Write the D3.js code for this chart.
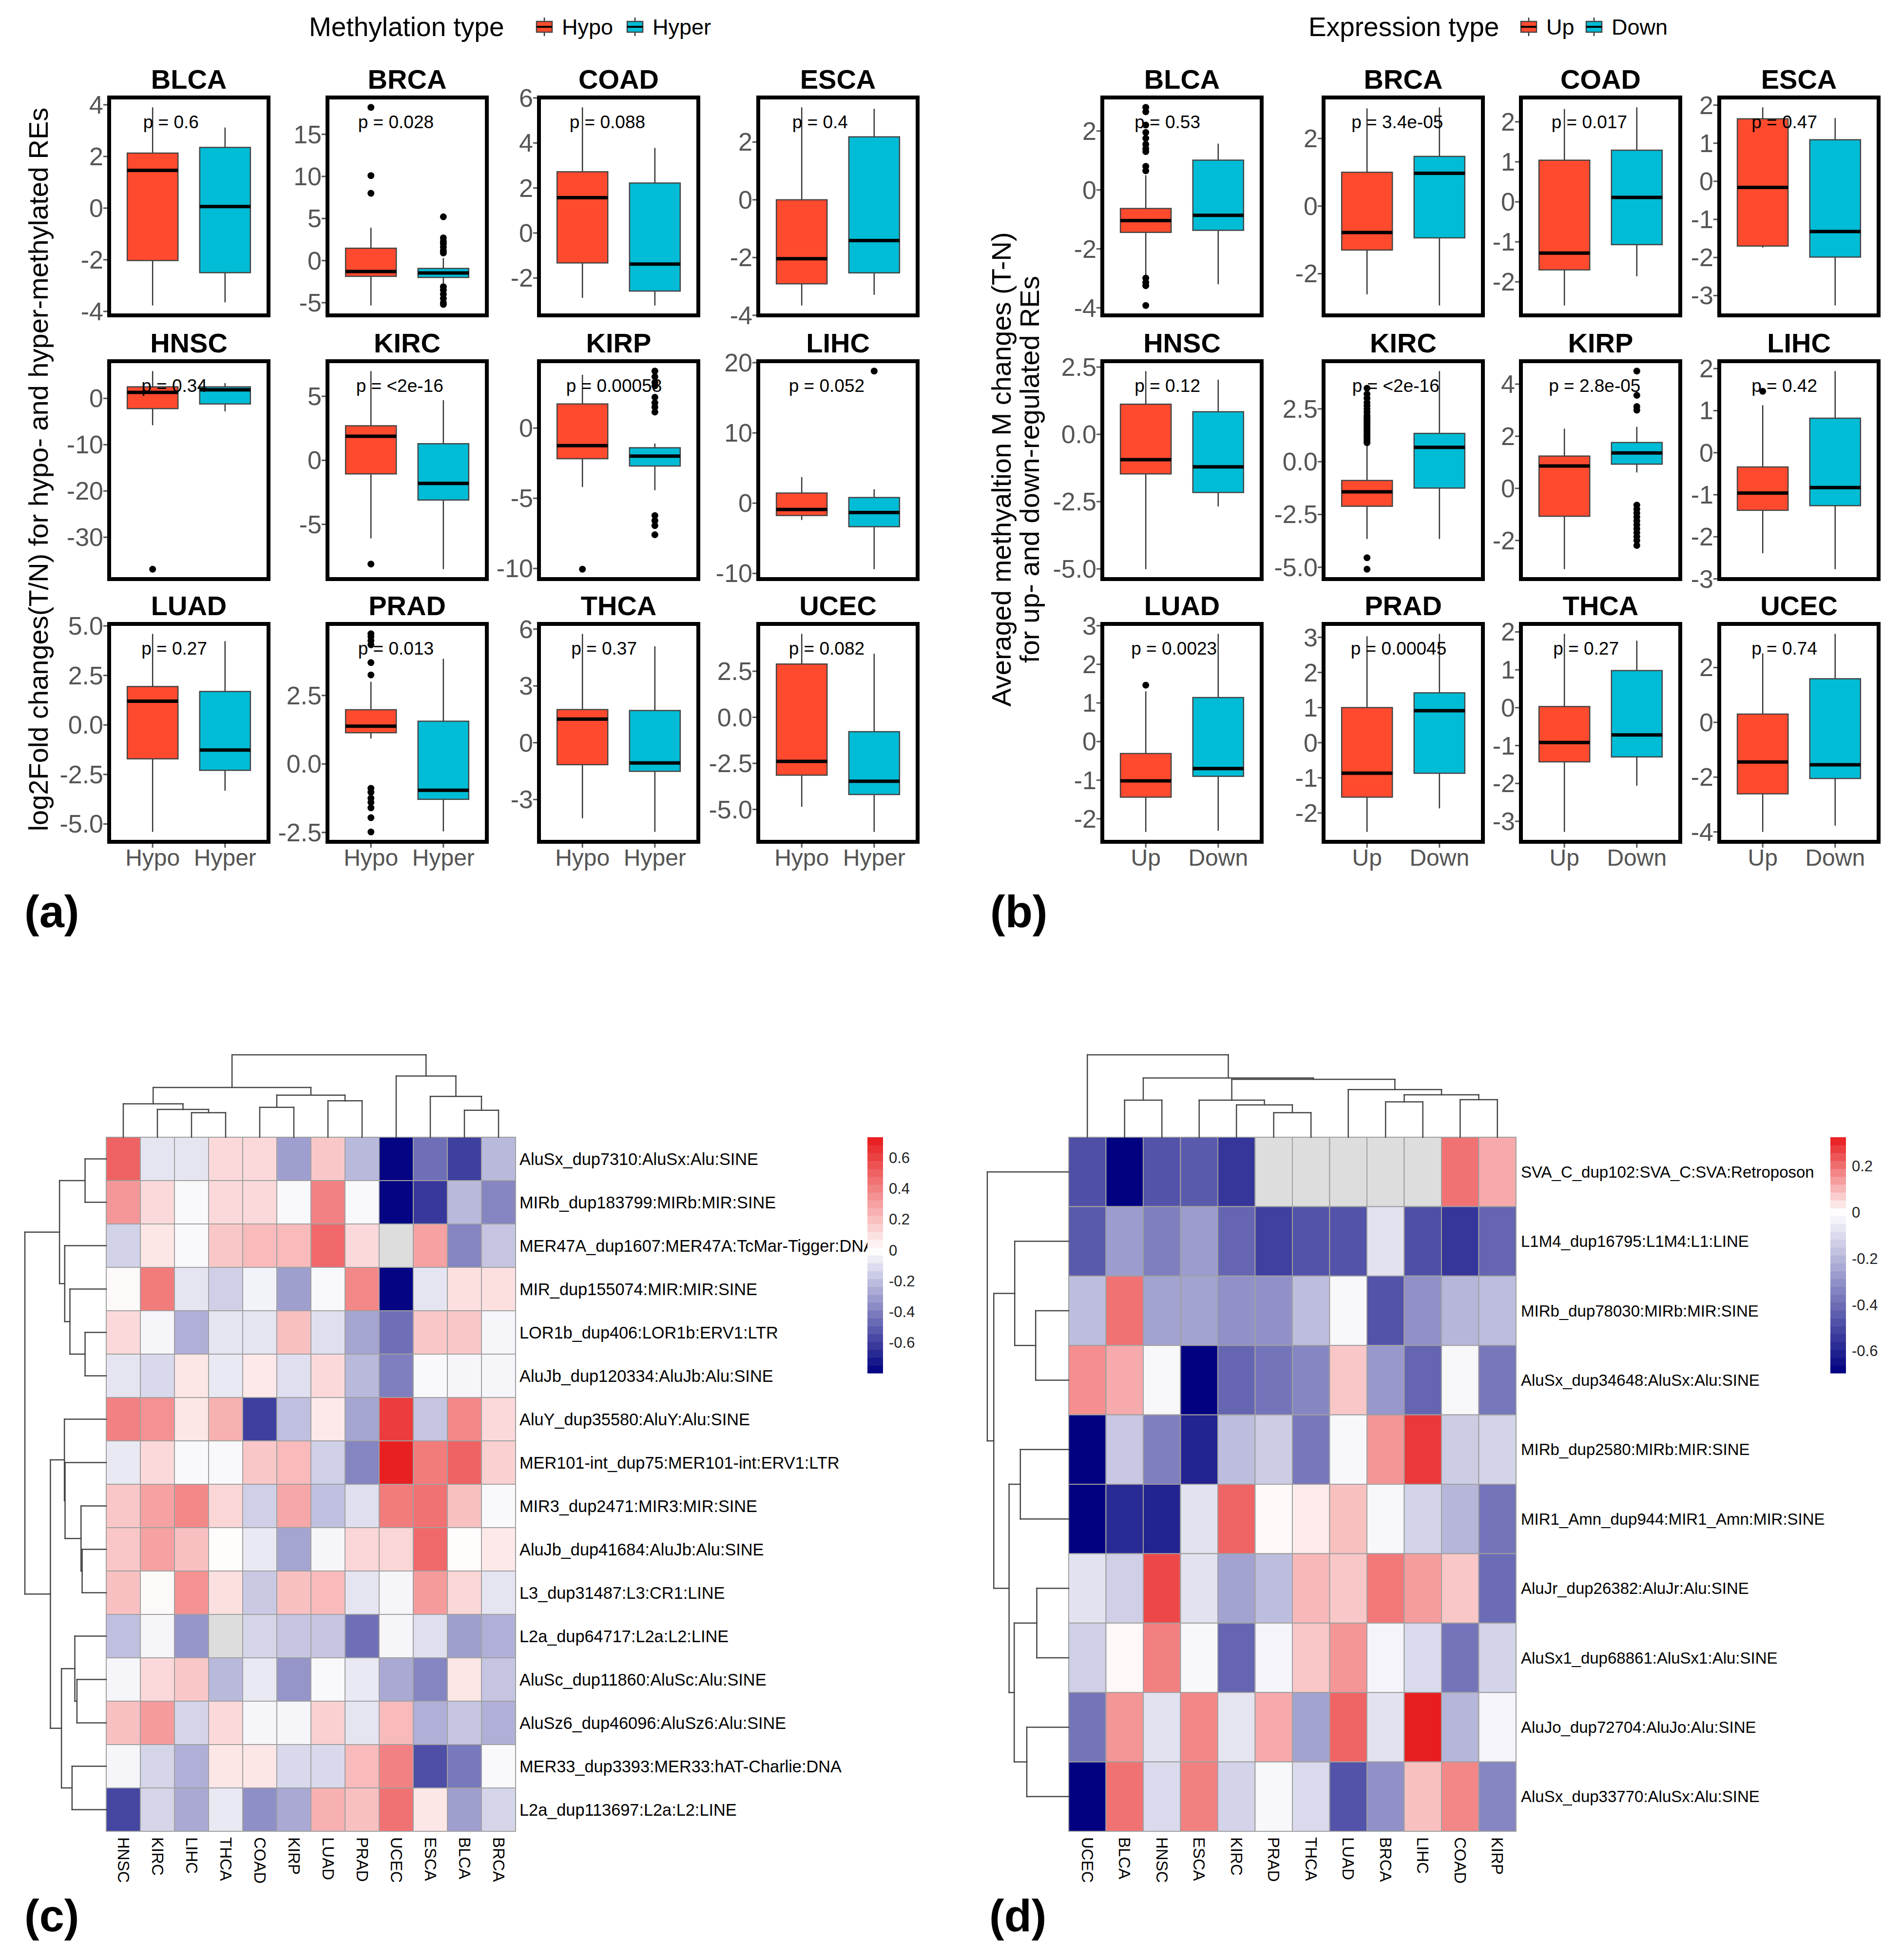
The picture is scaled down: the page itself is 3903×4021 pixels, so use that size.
<!DOCTYPE html>
<html>
<head>
<meta charset="utf-8">
<script src="https://cdn.jsdelivr.net/npm/d3@7"></script>
<style>
  body { margin: 0; background: #fff; }
  text { font-family: "Liberation Sans", Arial, sans-serif; }
</style>
</head>
<body>
<svg id="fig" width="3903" height="4021"></svg>
<script>
// ---------- data: boxplots ----------
const cancers = ["BLCA", "BRCA", "COAD", "ESCA", "HNSC", "KIRC", "KIRP", "LIHC", "LUAD", "PRAD", "THCA", "UCEC"];

// [lower whisker, q1, median, q3, upper whisker]
const hypoBoxA = [
  [-3.77, -2.03, 1.46, 2.13, 3.9],
  [-5.33, -1.87, -1.29, 1.47, 3.9],
  [-2.88, -1.33, 1.57, 2.72, 5.58],
  [-3.66, -2.91, -2.04, 0.0, 3.2],
  [-5.8, -2.2, 1.3, 2.5, 5.9],
  [-6.1, -1.06, 1.88, 2.7, 6.97],
  [-4.2, -2.18, -1.25, 1.72, 3.8],
  [-2.4, -1.76, -0.9, 1.44, 3.72],
  [-5.4, -1.71, 1.2, 1.94, 4.6],
  [0.93, 1.14, 1.38, 1.98, 3.0],
  [-3.99, -1.16, 1.25, 1.75, 5.75],
  [-4.86, -3.14, -2.39, 2.89, 4.53]
];
const hyperBoxA = [
  [-3.65, -2.5, 0.06, 2.35, 3.12],
  [-2.7, -2.0, -1.47, -0.93, 0.3],
  [-3.22, -2.58, -1.38, 2.22, 3.78],
  [-3.29, -2.53, -1.41, 2.18, 3.15],
  [-2.8, -1.2, 1.85, 2.5, 3.3],
  [-8.5, -3.1, -1.8, 1.3, 4.7],
  [-4.43, -2.7, -2.0, -1.4, -1.1],
  [-9.4, -3.35, -1.33, 0.8, 1.97],
  [-3.32, -2.29, -1.27, 1.69, 4.23],
  [-2.46, -1.29, -0.96, 1.56, 3.84],
  [-4.71, -1.51, -1.07, 1.7, 5.09],
  [-6.22, -4.19, -3.47, -0.78, 3.45]
];
const hypoOutA = [
  [], [18.2, 10.1, 8.0], [], [], [-36.9], [-8.1], [-10.05], [], [],
  [3.25, 3.7, 4.35, 4.5, 4.65, 4.75, -0.89, -1.03, -1.25, -1.4, -1.6, -1.96, -2.48], [], []
];
const hyperOutA = [
  [], [5.2, 2.7, 2.3, 2.0, 1.6, 1.2, 0.9, -3.1, -3.5, -4.0, -4.5, -5.0, -5.2], [], [], [], [],
  [4.06, 3.66, 3.26, 3.0, 2.2, 1.8, 1.5, 1.14, -6.23, -6.6, -6.95, -7.6], [18.8], [], [], [], []
];
const ticksA = [[-4, -2, 0, 2, 4], [-5, 0, 5, 10, 15], [-2, 0, 2, 4, 6], [-4, -2, 0, 2], [-30, -20, -10, 0], [-5, 0, 5],
  [-10, -5, 0], [-10, 0, 10, 20], [-5, -2.5, 0, 2.5, 5], [-2.5, 0, 2.5], [-3, 0, 3, 6], [-5, -2.5, 0, 2.5]];
const pvalA = ["p = 0.6", "p = 0.028", "p = 0.088", "p = 0.4", "p = 0.34", "p = <2e-16", "p = 0.00058", "p = 0.052",
  "p = 0.27", "p = 0.013", "p = 0.37", "p = 0.082"];

const upBoxB = [
  [-2.89, -1.44, -1.04, -0.63, 0.5],
  [-2.61, -1.3, -0.78, 1.0, 2.89],
  [-2.59, -1.7, -1.28, 1.04, 2.32],
  [-1.74, -1.7, -0.16, 1.64, 1.94],
  [-5.01, -1.47, -0.94, 1.12, 2.35],
  [-3.66, -2.11, -1.43, -0.89, 0.75],
  [-3.1, -1.07, 0.86, 1.24, 2.29],
  [-2.39, -1.37, -0.96, -0.34, 1.13],
  [-2.34, -1.44, -1.02, -0.31, 1.3],
  [-2.54, -1.55, -0.87, 1.0, 3.03],
  [-3.28, -1.43, -0.92, 0.03, 1.95],
  [-4.0, -2.61, -1.45, 0.3, 2.52]
];
const downBoxB = [
  [-3.2, -1.37, -0.86, 1.01, 1.57],
  [-2.94, -0.94, 0.97, 1.47, 2.92],
  [-1.86, -1.07, 0.11, 1.29, 2.36],
  [-3.26, -1.99, -1.32, 1.09, 1.66],
  [-2.68, -2.16, -1.21, 0.84, 2.03],
  [-3.66, -1.25, 0.68, 1.34, 4.29],
  [0.61, 0.93, 1.36, 1.76, 2.36],
  [-2.77, -1.26, -0.83, 0.82, 1.94],
  [-2.31, -0.9, -0.7, 1.14, 2.79],
  [-1.87, -0.87, 0.91, 1.42, 3.1],
  [-2.06, -1.3, -0.72, 0.98, 1.77],
  [-3.77, -2.05, -1.55, 1.59, 3.23]
];
const upOutB = [
  [2.8, 2.65, 2.2, 1.95, 1.75, 1.55, 1.4, 1.3, 0.8, 0.65, -2.99, -3.14, -3.25, -3.92],
  [], [], [], [],
  [0.9, 1.0, 1.1, 1.2, 1.3, 1.4, 1.5, 1.6, 1.7, 1.8, 1.9, 2.0, 2.1, 2.2, 2.35, 2.5, 2.65, 2.8, 3.0, 3.2, 3.48, -4.55, -5.09],
  [], [1.46], [1.46], [], [], []
];
const downOutB = [
  [], [], [], [], [], [],
  [4.5, 3.57, 3.14, 3.0, -0.64, -0.8, -0.95, -1.1, -1.25, -1.4, -1.55, -1.7, -1.85, -2.0, -2.19],
  [], [], [], [], []
];
const ticksB = [[-4, -2, 0, 2], [-2, 0, 2], [-2, -1, 0, 1, 2], [-3, -2, -1, 0, 1, 2], [-5, -2.5, 0, 2.5], [-5, -2.5, 0, 2.5],
  [-2, 0, 2, 4], [-3, -2, -1, 0, 1, 2], [-2, -1, 0, 1, 2, 3], [-2, -1, 0, 1, 2, 3], [-3, -2, -1, 0, 1, 2], [-4, -2, 0, 2]];
const pvalB = ["p = 0.53", "p = 3.4e-05", "p = 0.017", "p = 0.47", "p = 0.12", "p = <2e-16", "p = 2.8e-05", "p = 0.42",
  "p = 0.0023", "p = 0.00045", "p = 0.27", "p = 0.74"];

// ---------- data: heatmaps ----------
const heatColsC = ["HNSC", "KIRC", "LIHC", "THCA", "COAD", "KIRP", "LUAD", "PRAD", "UCEC", "ESCA", "BLCA", "BRCA"];
const heatRowsC = [
  "AluSx_dup7310:AluSx:Alu:SINE", "MIRb_dup183799:MIRb:MIR:SINE", "MER47A_dup1607:MER47A:TcMar-Tigger:DNA",
  "MIR_dup155074:MIR:MIR:SINE", "LOR1b_dup406:LOR1b:ERV1:LTR", "AluJb_dup120334:AluJb:Alu:SINE",
  "AluY_dup35580:AluY:Alu:SINE", "MER101-int_dup75:MER101-int:ERV1:LTR", "MIR3_dup2471:MIR3:MIR:SINE",
  "AluJb_dup41684:AluJb:Alu:SINE", "L3_dup31487:L3:CR1:LINE", "L2a_dup64717:L2a:L2:LINE",
  "AluSc_dup11860:AluSc:Alu:SINE", "AluSz6_dup46096:AluSz6:Alu:SINE", "MER33_dup3393:MER33:hAT-Charlie:DNA",
  "L2a_dup113697:L2a:L2:LINE"
];
const heatValsC = [
  [0.5, -0.08, -0.08, 0.12, 0.12, -0.3, 0.18, -0.22, -0.78, -0.45, -0.6, -0.22],
  [0.33, 0.12, -0.02, 0.12, 0.12, -0.02, 0.4, -0.02, -0.78, -0.62, -0.22, -0.38],
  [-0.14, 0.08, -0.02, 0.18, 0.22, 0.22, 0.48, 0.12, null, 0.3, -0.38, -0.18],
  [0.02, 0.42, -0.08, -0.15, -0.04, -0.3, -0.02, 0.38, -0.78, -0.08, 0.1, 0.1],
  [0.12, -0.03, -0.25, -0.08, -0.08, 0.2, -0.1, -0.28, -0.45, 0.18, 0.18, -0.03],
  [-0.08, -0.12, 0.08, -0.07, 0.07, -0.1, 0.12, -0.22, -0.4, -0.02, -0.03, -0.03],
  [0.4, 0.35, 0.08, 0.25, -0.6, -0.2, 0.07, -0.28, 0.62, -0.18, 0.38, 0.12],
  [-0.07, 0.12, -0.02, -0.02, 0.18, 0.22, -0.15, -0.38, 0.71, 0.42, 0.5, 0.15],
  [0.18, 0.3, 0.38, 0.13, -0.15, 0.28, -0.2, -0.1, 0.42, 0.45, 0.2, -0.02],
  [0.18, 0.3, 0.2, 0.01, -0.07, -0.28, -0.03, 0.13, 0.13, 0.48, 0.01, 0.07],
  [0.2, 0.02, 0.35, 0.1, -0.17, 0.2, 0.22, -0.08, -0.03, 0.32, 0.13, -0.08],
  [-0.2, -0.03, -0.33, null, -0.13, -0.18, -0.18, -0.45, -0.03, -0.1, -0.3, -0.25],
  [-0.03, 0.12, 0.18, -0.22, -0.07, -0.33, -0.02, -0.07, -0.27, -0.38, 0.08, -0.18],
  [0.2, 0.32, -0.13, 0.12, -0.03, -0.03, 0.15, -0.08, 0.22, -0.25, -0.18, -0.25],
  [-0.03, -0.13, -0.25, 0.08, 0.08, -0.12, -0.12, 0.22, 0.4, -0.55, -0.42, -0.02],
  [-0.58, -0.13, -0.27, -0.07, -0.35, -0.27, 0.25, 0.2, 0.45, 0.08, -0.3, -0.13]
];
// trees: [height, left, right]; leaves are column names / row indices
const colTreeC = [505, [305, [205, "HNSC", [170, "KIRC", [150, "LIHC", "THCA"]]], [258, [183, "COAD", "KIRP"], [223, "LUAD", "PRAD"]]],
  [375, "UCEC", [250, "ESCA", [165, "BLCA", "BRCA"]]]];
const rowTreeC = [500, [287, [130, 0, 1], [255, 2, [223, 3, [130, 4, 5]]]],
  [343, [257, 6, [253, 7, [155, 8, [148, 9, 10]]]], [275, [193, 11, [180, 12, 13]], [210, 14, 15]]]];
const legendTicksC = [0.6, 0.4, 0.2, 0, -0.2, -0.4, -0.6];

const heatColsD = ["UCEC", "BLCA", "HNSC", "ESCA", "KIRC", "PRAD", "THCA", "LUAD", "BRCA", "LIHC", "COAD", "KIRP"];
const heatRowsD = [
  "SVA_C_dup102:SVA_C:SVA:Retroposon", "L1M4_dup16795:L1M4:L1:LINE", "MIRb_dup78030:MIRb:MIR:SINE",
  "AluSx_dup34648:AluSx:Alu:SINE", "MIRb_dup2580:MIRb:MIR:SINE", "MIR1_Amn_dup944:MIR1_Amn:MIR:SINE",
  "AluJr_dup26382:AluJr:Alu:SINE", "AluSx1_dup68861:AluSx1:Alu:SINE", "AluJo_dup72704:AluJo:Alu:SINE",
  "AluSx_dup33770:AluSx:Alu:SINE"
];
const heatValsD = [
  [-0.48, -0.69, -0.47, -0.45, -0.55, null, null, null, null, null, 0.2, 0.12],
  [-0.45, -0.27, -0.35, -0.27, -0.42, -0.52, -0.47, -0.47, -0.08, -0.48, -0.55, -0.42],
  [-0.18, 0.2, -0.25, -0.25, -0.3, -0.3, -0.18, -0.02, -0.47, -0.3, -0.2, -0.18],
  [0.16, 0.12, -0.02, -0.69, -0.42, -0.38, -0.33, 0.08, -0.28, -0.42, -0.02, -0.37],
  [-0.69, -0.15, -0.35, -0.6, -0.18, -0.14, -0.37, -0.02, 0.15, 0.28, -0.14, -0.12],
  [-0.69, -0.58, -0.6, -0.08, 0.22, 0.01, 0.03, 0.09, -0.02, -0.12, -0.2, -0.38],
  [-0.08, -0.13, 0.26, -0.08, -0.25, -0.18, 0.1, 0.08, 0.19, 0.14, 0.08, -0.4],
  [-0.13, 0.01, 0.18, -0.02, -0.42, -0.03, 0.08, 0.15, -0.03, -0.1, -0.38, -0.12],
  [-0.38, 0.15, -0.08, 0.17, -0.07, 0.12, -0.25, 0.22, -0.08, 0.32, -0.2, -0.03],
  [-0.69, 0.2, -0.1, 0.18, -0.12, -0.02, -0.1, -0.47, -0.3, 0.09, 0.17, -0.33]
];
const colTreeD = [505, "UCEC", [363, [227, "BLCA", "HNSC"], [355, [227, "ESCA", [198, "KIRC", [150, "PRAD", "THCA"]]],
  [292, "LUAD", [260, [217, "BRCA", "LIHC"], [230, "COAD", "KIRP"]]]]]];
const rowTreeD = [505, 0, [465, [335, 1, [205, 2, 3]], [370, [300, 4, 5], [338, [198, 6, 7], [260, 8, 9]]]]];
const legendTicksD = [0.2, 0, -0.2, -0.4, -0.6];

// ---------- drawing ----------
const svg = d3.select("#fig");
svg.append("rect").attr("width", 3903).attr("height", 4021).attr("fill", "#fff");

const RED = "#FF4A2E", TEAL = "#00BCD6";
const colsA = [224, 672, 1106, 1556], colsB = [2262, 2716, 3121, 3528];
const rowsY = [200, 741, 1280];
const PW = 327, PH = 447;

function boxPanel(x0, y0, name, boxes, outs, ticks, pval, groups, showX) {
  const g = svg.append("g");
  const x = d3.scaleLinear().domain([0.4, 2.6]).range([x0, x0 + PW]);
  const all = [];
  boxes.forEach((b, i) => { all.push(b[0], b[4]); outs[i].forEach(v => all.push(v)); });
  const ext = d3.extent(all), pad = (ext[1] - ext[0]) * 0.05;
  const y = d3.scaleLinear().domain([ext[0] - pad, ext[1] + pad]).range([y0 + PH, y0]);
  const bw = 0.7;
  const cols = [RED, TEAL];

  boxes.forEach((b, i) => {
    const cx = x(i + 1);
    g.append("line").attr("x1", cx).attr("x2", cx).attr("y1", y(b[0])).attr("y2", y(b[1]))
      .attr("stroke", "#333").attr("stroke-width", 2.5);
    g.append("line").attr("x1", cx).attr("x2", cx).attr("y1", y(b[3])).attr("y2", y(b[4]))
      .attr("stroke", "#333").attr("stroke-width", 2.5);
    g.append("rect").attr("x", x(i + 1 - bw / 2)).attr("width", x(i + 1 + bw / 2) - x(i + 1 - bw / 2))
      .attr("y", y(b[3])).attr("height", y(b[1]) - y(b[3]))
      .attr("fill", cols[i]).attr("stroke", "#444").attr("stroke-width", 2.5);
    g.append("line").attr("x1", x(i + 1 - bw / 2)).attr("x2", x(i + 1 + bw / 2))
      .attr("y1", y(b[2])).attr("y2", y(b[2])).attr("stroke", "#000").attr("stroke-width", 7);
    g.selectAll(null).data(outs[i]).enter().append("circle")
      .attr("cx", cx).attr("cy", d => y(d)).attr("r", 7).attr("fill", "#000");
  });

  // p value label
  const pt = g.append("text").attr("y", y0 + 50).attr("dominant-baseline", "central")
    .attr("font-size", 37).attr("fill", "#000").text(pval);
  const len = pt.node().getComputedTextLength();
  pt.attr("x", x(1) - 0.17 * len);

  g.append("rect").attr("x", x0).attr("y", y0).attr("width", PW).attr("height", PH)
    .attr("fill", "none").attr("stroke", "#000").attr("stroke-width", 8);

  const fmt = ticks.some(t => !Number.isInteger(t)) ? d3.format(".1f") : d3.format("d");
  ticks.forEach(t => {
    g.append("line").attr("x1", x0 - 12).attr("x2", x0 - 4).attr("y1", y(t)).attr("y2", y(t))
      .attr("stroke", "#555").attr("stroke-width", 3);
    g.append("text").attr("x", x0 - 12).attr("y", y(t)).attr("text-anchor", "end")
      .attr("dominant-baseline", "central").attr("font-size", 52).attr("fill", "#555")
      .text(fmt(t).replace("\u2212", "-"));
  });

  g.append("text").attr("x", x0 + PW / 2).attr("y", y0 - 38).attr("text-anchor", "middle")
    .attr("dominant-baseline", "central").attr("font-size", 56).attr("font-weight", "bold").text(name);

  if (showX) {
    groups.forEach((lab, i) => {
      g.append("line").attr("x1", x(i + 1)).attr("x2", x(i + 1)).attr("y1", y0 + PH + 4).attr("y2", y0 + PH + 12)
        .attr("stroke", "#555").attr("stroke-width", 3);
      g.append("text").attr("x", x(i + 1)).attr("y", y0 + PH + 32).attr("text-anchor", "middle")
        .attr("dominant-baseline", "central").attr("font-size", 48).attr("fill", "#555").text(lab);
    });
  }
}

cancers.forEach((c, i) => {
  const r = Math.floor(i / 4), k = i % 4;
  boxPanel(colsA[k], rowsY[r], c, [hypoBoxA[i], hyperBoxA[i]], [hypoOutA[i], hyperOutA[i]], ticksA[i], pvalA[i], ["Hypo", "Hyper"], r === 2);
  boxPanel(colsB[k], rowsY[r], c, [upBoxB[i], downBoxB[i]], [upOutB[i], downOutB[i]], ticksB[i], pvalB[i], ["Up", "Down"], r === 2);
});

// legends for boxplots
function boxLegend(tx, title, items) {
  svg.append("text").attr("x", tx).attr("y", 55).attr("dominant-baseline", "central")
    .attr("font-size", 55).text(title);
  items.forEach(it => {
    const kx = it.x, cx = kx + 16;
    svg.append("line").attr("x1", cx).attr("x2", cx).attr("y1", 36).attr("y2", 74).attr("stroke", "#333").attr("stroke-width", 2.5);
    svg.append("rect").attr("x", kx).attr("y", 44).attr("width", 32).attr("height", 22)
      .attr("fill", it.c).attr("stroke", "#444").attr("stroke-width", 2.5);
    svg.append("line").attr("x1", kx).attr("x2", kx + 32).attr("y1", 55).attr("y2", 55).attr("stroke", "#000").attr("stroke-width", 4);
    svg.append("text").attr("x", kx + 52).attr("y", 55).attr("dominant-baseline", "central")
      .attr("font-size", 45).text(it.t);
  });
}
boxLegend(634, "Methylation type", [{ x: 1101, c: RED, t: "Hypo" }, { x: 1287, c: TEAL, t: "Hyper" }]);
boxLegend(2685, "Expression type", [{ x: 3121, c: RED, t: "Up" }, { x: 3255, c: TEAL, t: "Down" }]);

// axis titles
svg.append("text").attr("transform", "translate(78,963) rotate(-90)").attr("text-anchor", "middle")
  .attr("dominant-baseline", "central").attr("font-size", 56)
  .text("log2Fold changes(T/N) for hypo- and hyper-methylated REs");
svg.append("text").attr("transform", "translate(2054,963) rotate(-90)").attr("text-anchor", "middle")
  .attr("dominant-baseline", "central").attr("font-size", 56)
  .text("Averaged methyaltion M changes (T-N)");
svg.append("text").attr("transform", "translate(2112,963) rotate(-90)").attr("text-anchor", "middle")
  .attr("dominant-baseline", "central").attr("font-size", 56)
  .text("for up- and down-regulated REs");

// ---------- heatmaps ----------
function drawTree(tree, leafPos, base, size, isRow) {
  const root = d3.hierarchy(tree, d => Array.isArray(d) ? d.slice(1) : null);
  root.eachAfter(n => {
    n.p = n.children ? d3.mean(n.children, c => c.p) : leafPos(n.data);
    n.ht = n.children ? n.data[0] : 0;
  });
  const hs = d3.scaleLinear().domain([0, root.ht]).range([base, base - size]);
  const segs = [];
  root.each(n => {
    if (!n.children) return;
    const [a, b] = n.children;
    segs.push([a.p, hs(a.ht), a.p, hs(n.ht)], [b.p, hs(b.ht), b.p, hs(n.ht)], [a.p, hs(n.ht), b.p, hs(n.ht)]);
  });
  svg.append("g").selectAll("line").data(segs).enter().append("line")
    .attr("x1", d => isRow ? d[1] : d[0]).attr("y1", d => isRow ? d[0] : d[1])
    .attr("x2", d => isRow ? d[3] : d[2]).attr("y2", d => isRow ? d[2] : d[3])
    .attr("stroke", "#444").attr("stroke-width", 2.5).attr("stroke-linecap", "square");
}

function heatmap(opt) {
  const { x0, y0, cw, ch, rows, cols, vals, lo, hi, colTree, rowTree, legX, legTicks, labX, fs } = opt;
  const color = d3.scaleLinear().domain([lo, 0, hi]).range(["#000080", "#ffffff", "#E8191B"]).clamp(true);
  const xb = d3.scaleBand().domain(cols).range([x0, x0 + cw * cols.length]);
  const yb = d3.scaleBand().domain(d3.range(rows.length)).range([y0, y0 + ch * rows.length]);
  const g = svg.append("g");
  vals.forEach((row, ri) => {
    g.selectAll(null).data(row).enter().append("rect")
      .attr("x", (d, ci) => xb(cols[ci])).attr("y", yb(ri))
      .attr("width", xb.bandwidth()).attr("height", yb.bandwidth())
      .attr("fill", d => d === null ? "#DDDDDD" : color(d))
      .attr("stroke", "#A0A0A0").attr("stroke-width", 2);
  });
  // row labels
  g.selectAll(null).data(rows).enter().append("text")
    .attr("x", labX).attr("y", (d, i) => yb(i) + yb.bandwidth() / 2)
    .attr("dominant-baseline", "central").attr("font-size", fs).text(d => d);
  // column labels
  const yEnd = y0 + ch * rows.length;
  g.selectAll(null).data(cols).enter().append("text")
    .attr("transform", d => `translate(${xb(d) + xb.bandwidth() / 2},${yEnd + 12}) rotate(90)`)
    .attr("dominant-baseline", "central").attr("font-size", 33).text(d => d);
  // dendrograms
  drawTree(colTree, d => xb(d) + xb.bandwidth() / 2, y0, 169, false);
  drawTree(rowTree, d => yb(d) + yb.bandwidth() / 2, x0, 167, true);
  // colour legend
  const ly = d3.scaleLinear().domain([lo, hi]).range([y0 + 484, y0]);
  const steps = d3.range(30).map(i => lo + (hi - lo) * i / 30);
  const stepH = 484 / 30;
  g.selectAll(null).data(steps).enter().append("rect")
    .attr("x", legX).attr("width", 32).attr("y", d => ly(d) - stepH).attr("height", stepH + 0.6)
    .attr("fill", d => color(d + (hi - lo) / 60));
  g.selectAll(null).data(legTicks).enter().append("text")
    .attr("x", legX + 44).attr("y", d => ly(d)).attr("dominant-baseline", "central")
    .attr("font-size", 31).attr("fill", "#222").text(d => d3.format("")(d).replace("\u2212", "-"));
}

heatmap({
  x0: 218, y0: 2333, cw: 70, ch: 89, rows: heatRowsC, cols: heatColsC, vals: heatValsC,
  lo: -0.796, hi: 0.733, colTree: colTreeC, rowTree: rowTreeC, legX: 1780, legTicks: legendTicksC, labX: 1066, fs: 34.3
});
heatmap({
  x0: 2193, y0: 2333, cw: 76.5, ch: 142.4, rows: heatRowsD, cols: heatColsD, vals: heatValsD,
  lo: -0.695, hi: 0.326, colTree: colTreeD, rowTree: rowTreeD, legX: 3756, legTicks: legendTicksD, labX: 3121, fs: 33
});

// panel letters
[["(a)", 50, 1870], ["(b)", 2032, 1870], ["(c)", 50, 3930], ["(d)", 2030, 3930]].forEach(d => {
  svg.append("text").attr("x", d[1]).attr("y", d[2]).attr("dominant-baseline", "central")
    .attr("font-size", 92).attr("font-weight", "bold").text(d[0]);
});
</script>
</body>
</html>
